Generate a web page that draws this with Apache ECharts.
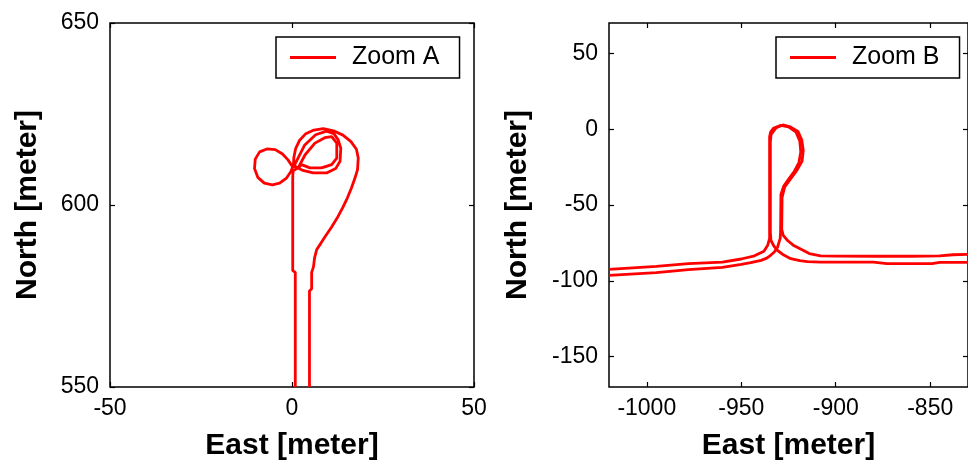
<!DOCTYPE html>
<html>
<head>
<meta charset="utf-8">
<script src="https://cdn.jsdelivr.net/npm/echarts@6/dist/echarts.min.js"></script>
<style>html,body{margin:0;padding:0;background:#fff;}#c{width:968px;height:466px;}</style>
</head>
<body>
<div id="c"></div>
<script>
// ---- Zoom A (left panel) trajectory ----
const zoomAEast = [4.8,4.8,5.4,5.4,5.9,6.2,6.8,8.0,9.3,10.8,12.4,13.9,15.2,16.3,17.3,18.0,18.2,17.7,16.2,14.0,11.4,8.6,6.0,3.8,2.1,1.0,0.5,0.4,
  -0.3,-1.6,-3.4,-5.4,-7.6,-9.4,-10.3,-10.1,-8.9,-6.9,-4.6,-2.6,-1.1,0.1,
  1.0,3.0,5.8,9.5,12.0,13.2,13.4,12.7,11.5,9.5,6.5,3.5,1.2,0.6,
  1.7,2.65,4.9,8.1,10.9,12.3,12.3,10.9,9.0,6.3,3.6,1.7,0.3,
  0.2,0.2,0.9,0.9];
const zoomANorth = [550,576.4,577.0,581.5,583.0,585.5,587.8,589.6,591.6,593.8,596.4,599.2,601.9,604.6,607.4,609.7,612.9,615.3,617.4,619.2,620.4,621.0,620.6,619.6,617.8,615.5,613.0,611.0,
  609.2,607.3,606.0,605.5,606.0,607.6,610.0,612.6,614.6,615.4,615.2,614.0,612.4,610.6,
  610.5,609.5,608.8,608.8,610.0,612.0,615.6,617.9,619.6,620.3,619.3,616.5,612.0,610.8,
  610.2,611.1,610.2,610.2,611.1,612.9,617.0,618.8,618.5,617.0,613.8,610.2,609.4,
  607.5,582.0,581.5,550];

// ---- Zoom B (right panel) trajectory, two passes ----
const zoomBPass1East = [-1020,-995,-978,-960,-950,-943,-938,-936,-935,-935,-934.5,-933,-929,-925,-921,-919,-918.5,-919.5,-922,-925,-927.5,-929,-929.2,-929.4,-930.8,-932.5,-934.3,-936.5,-939.5,-945,-950,-960,-978,-995,-1020];
const zoomBPass1North = [-92.4,-90.4,-88.7,-87.6,-85.6,-83.5,-80.5,-76.5,-72,-5,-2,0.5,2.5,1.5,-2,-8,-15,-22,-28,-33,-37.5,-43,-68,-72,-77.8,-81,-83,-85,-86.5,-88,-89.1,-91.1,-92.6,-94.6,-96.4];
const zoomBPass2East = [-830,-838,-845,-860,-880,-900,-908,-914,-918.6,-922.5,-925.5,-927.8,-928.6,-928.4,-927,-924,-920.5,-917.8,-917.2,-918,-920,-924,-928,-931.5,-934.2,-934.6,-934.6,-934.3,-932.5,-930.8,-927.5,-923.8,-919,-915,-908,-880,-873,-860,-849,-845,-830];
const zoomBPass2North = [-82.6,-82.8,-83.6,-83.8,-83.8,-83.7,-83.5,-82,-79,-76.5,-73.4,-70,-66,-45,-38,-33,-27,-21,-14,-7,-1.5,1.5,2.8,1,-3.5,-8,-68,-73.4,-77.5,-80,-83,-85.4,-86.7,-87.4,-87.6,-87.6,-88.7,-88.7,-88.7,-87.8,-87.8];

// ---- tick labels ----
const zoomATicksX = [-50, 0, 50];
const zoomATicksY = [550, 600, 650];
const zoomBTicksX = [-1000, -950, -900, -850];
const zoomBTicksY = [-150, -100, -50, 0, 50];

const FONT = "'Liberation Sans', Arial, sans-serif";
const toPairs = (xs, ys) => xs.map((x, i) => [x, ys[i]]);
const plain = v => String(v);

const tickStyle = { show: true, inside: true, length: 5, lineStyle: { color: '#000', width: 1.2 } };
const labelStyle = { color: '#000', fontSize: 23, fontFamily: FONT, formatter: plain };
const nameStyle = { color: '#000', fontSize: 30, fontWeight: 'bold', fontFamily: FONT };
const noLine = { show: false, onZero: false };

function mainX(gridIndex, min, max, ticks) {
  return {
    type: 'value', gridIndex, position: 'bottom', min, max,
    axisLine: noLine, splitLine: { show: false },
    axisTick: Object.assign({}, tickStyle, { customValues: ticks }),
    axisLabel: Object.assign({}, labelStyle, { margin: 10, customValues: ticks }),
    name: 'East [meter]', nameLocation: 'middle', nameGap: 44, nameTextStyle: nameStyle
  };
}
function mirrorX(gridIndex, min, max, ticks) {
  return {
    type: 'value', gridIndex, position: 'top', min, max,
    axisLine: noLine, splitLine: { show: false },
    axisTick: Object.assign({}, tickStyle, { customValues: ticks }),
    axisLabel: { show: false }
  };
}
function mainY(gridIndex, min, max, ticks, gap) {
  return {
    type: 'value', gridIndex, position: 'left', min, max,
    axisLine: noLine, splitLine: { show: false },
    axisTick: Object.assign({}, tickStyle, { customValues: ticks }),
    axisLabel: Object.assign({}, labelStyle, { margin: 11, customValues: ticks }),
    name: 'North [meter]', nameLocation: 'middle', nameGap: gap, nameRotate: 90, nameTextStyle: nameStyle
  };
}
function mirrorY(gridIndex, min, max, ticks) {
  return {
    type: 'value', gridIndex, position: 'right', min, max,
    axisLine: noLine, splitLine: { show: false },
    axisTick: Object.assign({}, tickStyle, { customValues: ticks }),
    axisLabel: { show: false }
  };
}
function legendAt(left, name) {
  return {
    data: [name], left, top: 37, orient: 'horizontal',
    backgroundColor: '#fff', borderColor: '#000', borderWidth: 1.5,
    padding: [8, 20, 8, 14], icon: 'rect', itemWidth: 46, itemHeight: 3,
    textStyle: { color: '#000', fontSize: 25, fontFamily: FONT, padding: [0, 0, 0, 11] }
  };
}
const lineSeries = (name, xi, yi, data) => ({
  name, type: 'line', xAxisIndex: xi, yAxisIndex: yi, data,
  showSymbol: false, symbol: 'none', smooth: false, clip: true,
  lineStyle: { color: '#ff0000', width: 2.8 }, itemStyle: { color: '#ff0000' }
});

const chart = echarts.init(document.getElementById('c'), null, { renderer: 'canvas' });
chart.setOption({
  animation: false,
  backgroundColor: '#fff',
  grid: [
    { left: 110, top: 23, width: 364, height: 365, show: true, borderColor: '#000', borderWidth: 1.5, backgroundColor: 'transparent' },
    { left: 609, top: 23, width: 364, height: 365, show: true, borderColor: '#000', borderWidth: 1.5, backgroundColor: 'transparent' }
  ],
  xAxis: [
    mainX(0, -50, 50, zoomATicksX), mirrorX(0, -50, 50, zoomATicksX),
    mainX(1, -1020, -830, zoomBTicksX), mirrorX(1, -1020, -830, zoomBTicksX)
  ],
  yAxis: [
    mainY(0, 550, 650, zoomATicksY, 67), mirrorY(0, 550, 650, zoomATicksY),
    mainY(1, -170, 70, zoomBTicksY, 76), mirrorY(1, -170, 70, zoomBTicksY)
  ],
  legend: [legendAt(276, 'Zoom A'), legendAt(776, 'Zoom B')],
  series: [
    lineSeries('Zoom A', 0, 0, toPairs(zoomAEast, zoomANorth)),
    lineSeries('Zoom B', 2, 2, toPairs(zoomBPass1East, zoomBPass1North)),
    lineSeries('Zoom B', 2, 2, toPairs(zoomBPass2East, zoomBPass2North))
  ]
});
</script>
</body>
</html>
